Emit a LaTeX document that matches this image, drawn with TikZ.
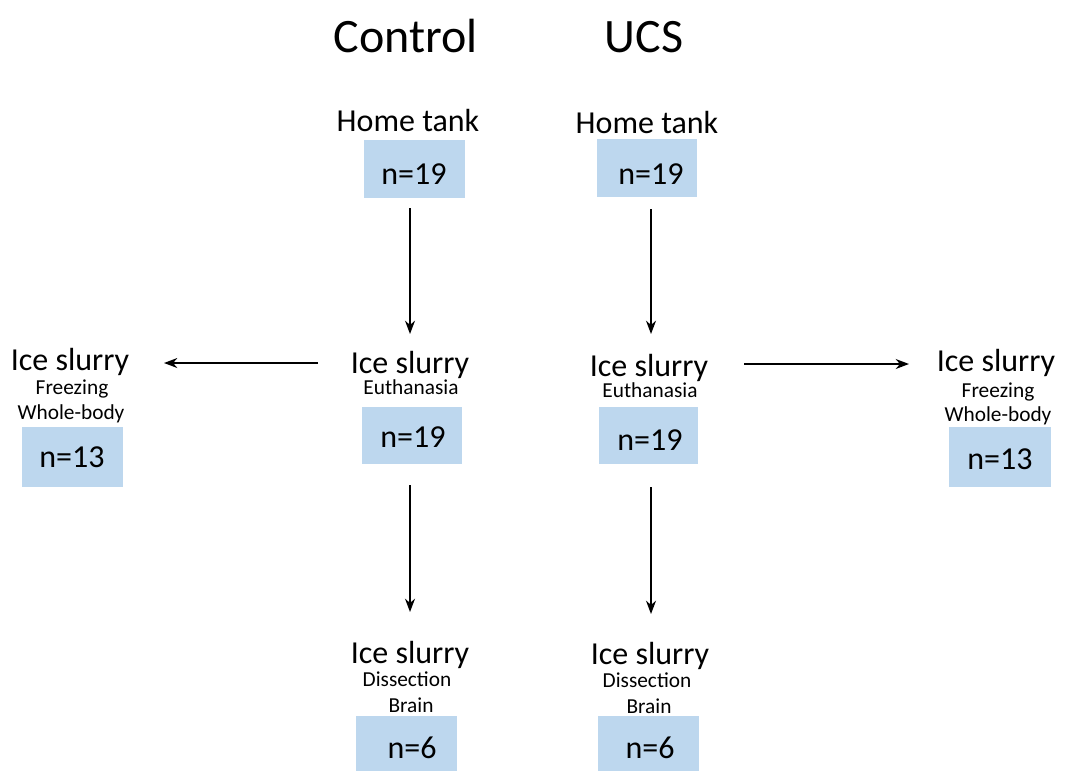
\documentclass[tikz,border=0pt]{standalone}
\usepackage{fontspec}
\setmainfont{Carlito}
\usetikzlibrary{arrows.meta}
\definecolor{boxblue}{HTML}{BDD7EE}
\begin{document}
\begin{tikzpicture}[x=0.75pt,y=-0.75pt,
  title/.style={anchor=base,inner sep=0pt,font=\fontsize{36}{40}\selectfont},
  head/.style={anchor=base,inner sep=0pt,font=\fontsize{24}{28}\selectfont},
  sub/.style={anchor=base,inner sep=0pt,font=\fontsize{16}{19}\selectfont},
  num/.style={anchor=base,inner sep=0pt,font=\fontsize{24}{28}\selectfont},
  nbox/.style={fill=boxblue,draw=none},
  arr/.style={-{Stealth[length=10pt,width=7.5pt]},line width=1.3pt}]
\useasboundingbox (0,0) rectangle (1066,772);
% titles
\node[title] (tc) at (406,52) {Control};
\node[title] (tu) at (644,52) {UCS};
% home tank
\node[head] (htc) at (408,131) {Home tank};
\node[head] (htu) at (647,133) {Home tank};
\fill[nbox] (364,140) rectangle (465,198);
\fill[nbox] (597,139) rectangle (697,197);
\node[num] (nhc) at (414,184) {n=19};
\node[num] (nhu) at (651,184) {n=19};
% euthanasia
\node[head] (ec) at (410,373) {Ice slurry};
\node[sub] (ecs) at (411,394) {Euthanasia};
\node[head] (eu) at (649,376) {Ice slurry};
\node[sub] (eus) at (650,397) {Euthanasia};
\fill[nbox] (362,407) rectangle (462,464);
\fill[nbox] (599,407) rectangle (698,464);
\node[num] (nec) at (413,447) {n=19};
\node[num] (neu) at (650,450) {n=19};
% freezing left
\node[head] (fl) at (70,370) {Ice slurry};
\node[sub] (fls) at (72,394) {Freezing};
\node[sub] (flw) at (71,419) {Whole-body};
\fill[nbox] (22,427) rectangle (123,487);
\node[num] (nfl) at (72,467) {n=13};
% freezing right
\node[head] (fr) at (996,371) {Ice slurry};
\node[sub] (frs) at (998,397) {Freezing};
\node[sub] (frw) at (998,421) {Whole-body};
\fill[nbox] (949,427) rectangle (1051,487);
\node[num] (nfr) at (1000,469) {n=13};
% dissection
\node[head] (dc) at (410,663) {Ice slurry};
\node[sub] (dcs) at (407,686) {Dissection};
\node[sub] (dcb) at (411,712) {Brain};
\fill[nbox] (356,716) rectangle (457,771);
\node[num] (ndc) at (412,758) {n=6};
\node[head] (du) at (650,664) {Ice slurry};
\node[sub] (dus) at (647,687) {Dissection};
\node[sub] (dub) at (649,713) {Brain};
\fill[nbox] (598,716) rectangle (699,771);
\node[num] (ndu) at (650,758) {n=6};
% arrow endpoints
\coordinate (a1s) at (410,208); \coordinate (a1e) at (410,334);
\coordinate (a2s) at (651,209); \coordinate (a2e) at (651,334);
\coordinate (a3s) at (410,485); \coordinate (a3e) at (410,612);
\coordinate (a4s) at (651,487); \coordinate (a4e) at (651,614);
\coordinate (a5s) at (318,363); \coordinate (a5e) at (164,363);
\coordinate (a6s) at (744,364); \coordinate (a6e) at (909,364);
\draw[arr] (a1s) -- (a1e);
\draw[arr] (a2s) -- (a2e);
\draw[arr] (a3s) -- (a3e);
\draw[arr] (a4s) -- (a4e);
\draw[arr] (a5s) -- (a5e);
\draw[arr] (a6s) -- (a6e);
\end{tikzpicture}
\end{document}
